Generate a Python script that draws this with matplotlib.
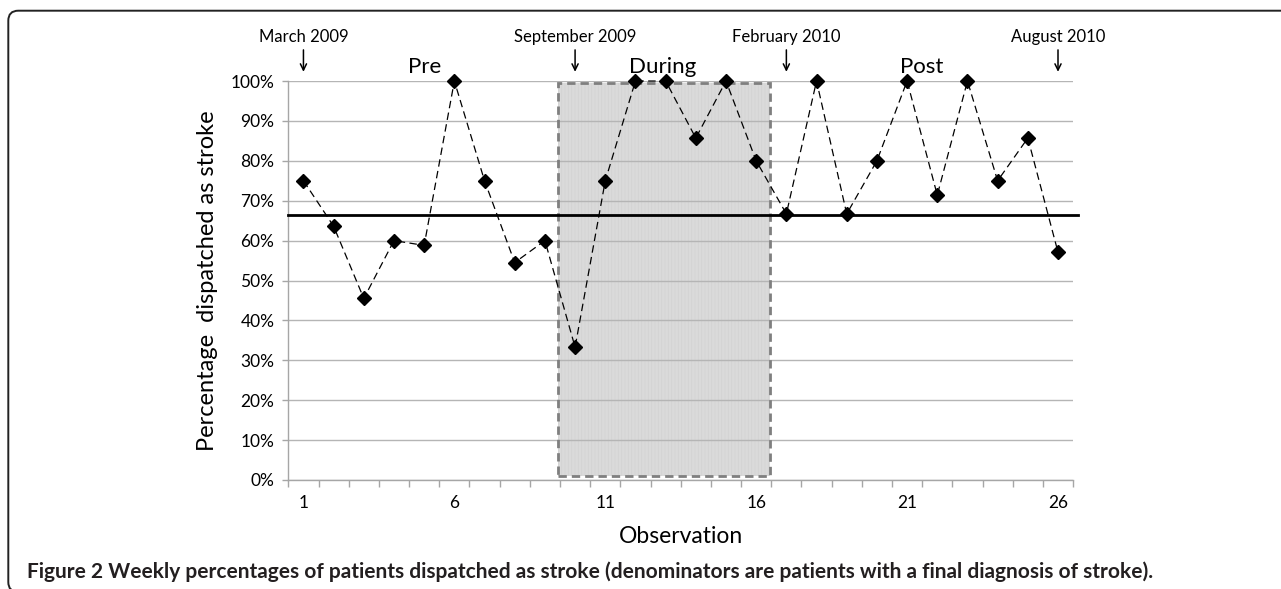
import matplotlib
matplotlib.use('Agg')
import matplotlib.pyplot as plt
from matplotlib.patches import Rectangle, FancyBboxPatch
from matplotlib.ticker import FixedLocator, FuncFormatter
import numpy as np

plt.rcParams['font.family'] = ['Lato', 'DejaVu Sans']
plt.rcParams['hatch.linewidth'] = 0.5

# weekly percentages dispatched as stroke
observations = list(range(1, 27))
percent = [75.0, 63.6, 45.5, 60.0, 58.8, 100.0, 75.0, 54.5, 60.0, 33.3,
           75.0, 100.0, 100.0, 85.7, 100.0, 80.0, 66.7, 100.0, 66.7, 80.0,
           100.0, 71.4, 100.0, 75.0, 85.7, 57.1]
center_line = 66.3

# intervention period (shaded box)
during_start, during_end = 9.45, 16.47
during_lo, during_hi = 1.0, 99.4

# date markers above the plot
date_labels = ['March 2009', 'September 2009', 'February 2010', 'August 2010']
date_obs = [1, 10, 17, 26]
phase_labels = ['Pre', 'During', 'Post']
phase_obs = [5, 12.9, 21.5]

xtick_labels = [1, 6, 11, 16, 21, 26]
yticks = list(range(0, 101, 10))

fig = plt.figure(figsize=(12.81, 5.89), dpi=100)
ax = fig.add_axes([0.2251, 0.18506, 0.6126, 0.6774])

# outer rounded frame (runs off the right and bottom edges)
frame = FancyBboxPatch((0.083, -0.03), 13.2, 5.813,
                       boxstyle='round,pad=0,rounding_size=0.1',
                       transform=fig.dpi_scale_trans, facecolor='none',
                       edgecolor='#222222', linewidth=1.4, clip_on=False)
fig.patches.append(frame)

ax.set_axisbelow(True)
ax.yaxis.grid(True, color='#b5b5b5', linewidth=1.0)

# shaded "during" box
w = during_end - during_start
h = during_hi - during_lo
ax.add_patch(Rectangle((during_start, during_lo), w, h, facecolor='#dadada',
                       edgecolor='#d2d2d2', linewidth=0, hatch='|||||', zorder=0.4))
ax.add_patch(Rectangle((during_start, during_lo), w, h, facecolor='none',
                       edgecolor='#7f7f7f', linewidth=2.0, linestyle=(0, (3, 1.8)),
                       zorder=2))

# center line
ax.axhline(center_line, xmin=0, xmax=1.006, color='black', linewidth=2.0,
           clip_on=False, zorder=3)

# data
ax.plot(observations, percent, color='black', linewidth=0.9,
        linestyle=(0, (6, 3.5)), marker='D', markersize=6.8,
        markerfacecolor='black', markeredgecolor='black', zorder=4,
        clip_on=False)

ax.set_xlim(0.5, 26.5)
ax.set_ylim(0, 100)

ax.xaxis.set_major_locator(FixedLocator(xtick_labels))
ax.xaxis.set_minor_locator(FixedLocator(np.arange(0.5, 27, 1)))
ax.tick_params(axis='x', which='major', length=0, pad=10.5, labelsize=12.5)
ax.tick_params(axis='x', which='minor', length=5, width=1, color='#a6a6a6',
               direction='out')
ax.set_yticks(yticks)
ax.yaxis.set_major_formatter(FuncFormatter(lambda v, p: f'{v:.0f}%'))
ax.tick_params(axis='y', length=4.5, width=1, color='#a6a6a6', pad=5.5,
               labelsize=12.5)

for side in ['top', 'right']:
    ax.spines[side].set_visible(False)
for side in ['left', 'bottom']:
    ax.spines[side].set_color('#a6a6a6')
    ax.spines[side].set_linewidth(1.0)

ax.set_xlabel('Observation', fontsize=16.5, va='center')
ax.xaxis.set_label_coords(0.5, -0.142)
ax.set_ylabel('Percentage  dispatched as stroke', fontsize=17, va='center')
ax.yaxis.set_label_coords(-0.1036, 0.5)

# date arrows and labels
for lab, xo in zip(date_labels, date_obs):
    ax.annotate('', xy=(xo, 102.3), xytext=(xo, 107.8),
                arrowprops=dict(arrowstyle='->,head_length=0.45,head_width=0.22',
                                color='black', lw=1.1, shrinkA=0, shrinkB=0),
                annotation_clip=False)
    ax.text(xo, 109.9, lab, ha='center', va='baseline', fontsize=12,
            clip_on=False)

for lab, xo in zip(phase_labels, phase_obs):
    ax.text(xo, 102.0, lab, ha='center', va='baseline', fontsize=16,
            clip_on=False)

fig.text(0.0208, 0.0297,
         'Figure 2 Weekly percentages of patients dispatched as stroke '
         '(denominators are patients with a final diagnosis of stroke).',
         ha='left', va='center', fontsize=15, fontweight='bold',
         color='#231f20')

fig.savefig('out.png', dpi=100)
